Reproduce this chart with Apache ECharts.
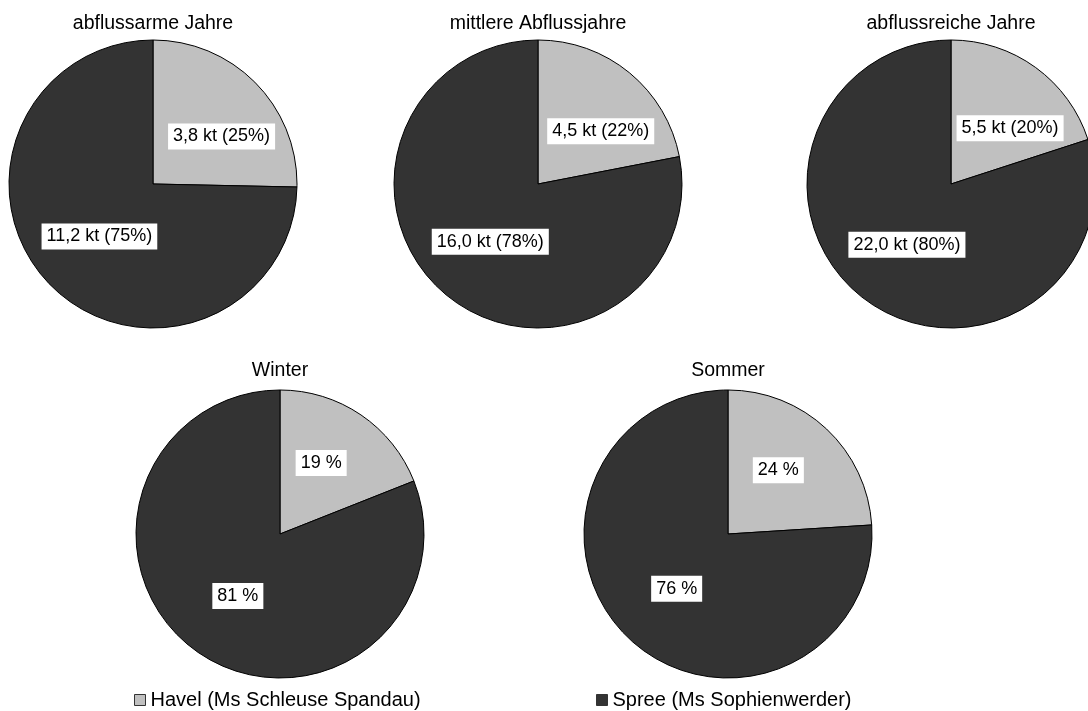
<!DOCTYPE html>
<html>
<head>
<meta charset="utf-8">
<script src="https://cdn.jsdelivr.net/npm/echarts@6/dist/echarts.min.js"></script>
<style>
  html, body { margin: 0; padding: 0; background: #ffffff; }
  #chart { width: 1088px; height: 711px; }
</style>
</head>
<body>
<div id="chart"></div>
<script>
// Frachtanteile Havel / Spree
const sources = ['Havel (Ms Schleuse Spandau)', 'Spree (Ms Sophienwerder)'];
const panelTitles = ['abflussarme Jahre', 'mittlere Abflussjahre', 'abflussreiche Jahre', 'Winter', 'Sommer'];

// Jahresfrachten in kt (Havel, Spree)
const loadsDry = [3.8, 11.2];
const loadsMean = [4.5, 16.0];
const loadsWet = [5.5, 22.0];
// Anteile in % (Havel, Spree)
const shareWinter = [19, 81];
const shareSummer = [24, 76];

const panelValues = [loadsDry, loadsMean, loadsWet, shareWinter, shareSummer];
const panelIsLoad = [true, true, true, false, false];

// layout of the five pies
const centers = [[153, 184], [538, 184], [951, 184], [280, 534], [728, 534]];
const titleTops = [14, 14, 14, 361, 361];
const radius = 144;
const colors = ['#c0c0c0', '#333333'];
const FONT = 'Liberation Sans, Arial, sans-serif';

const fmtDe = v => v.toFixed(1).replace('.', ',');

const series = panelValues.map((vals, i) => {
  const isLoad = panelIsLoad[i];
  return {
    type: 'pie',
    center: centers[i],
    radius: radius,
    startAngle: 90,
    clockwise: true,
    avoidLabelOverlap: false,
    silent: true,
    itemStyle: { borderColor: '#000000', borderWidth: 1 },
    label: {
      show: true,
      position: 'inside',
      fontFamily: FONT,
      fontSize: 18,
      color: '#000000',
      backgroundColor: '#ffffff',
      padding: [4, 5, 4, 5],
      formatter: p => isLoad
        ? fmtDe(p.value) + ' kt (' + Math.round(p.percent) + '%)'
        : Math.round(p.percent) + ' %'
    },
    labelLine: { show: false },
    data: vals.map((v, k) => ({
      name: sources[k],
      value: v,
      itemStyle: { color: colors[k] },
      label: k === 0 ? { offset: isLoad ? [15, 5] : [-1, -9] } : {}
    }))
  };
});

const chart = echarts.init(document.getElementById('chart'), null, { renderer: 'canvas' });
chart.setOption({
  animation: false,
  backgroundColor: '#ffffff',
  title: panelTitles.map((t, i) => ({
    text: t,
    left: centers[i][0],
    top: titleTops[i],
    textAlign: 'center',
    padding: 0,
    textStyle: { fontFamily: FONT, fontSize: 19.5, fontWeight: 'normal', color: '#000000' }
  })),
  legend: sources.map((s, k) => ({
    data: [s],
    left: k === 0 ? 134 : 596,
    top: 690,
    padding: 0,
    icon: 'rect',
    itemWidth: 11,
    itemHeight: 11,
    selectedMode: false,
    itemStyle: { borderColor: '#333333', borderWidth: 1 },
    textStyle: { fontFamily: FONT, fontSize: 20, color: '#000000' }
  })),
  series: series
});
</script>
</body>
</html>
